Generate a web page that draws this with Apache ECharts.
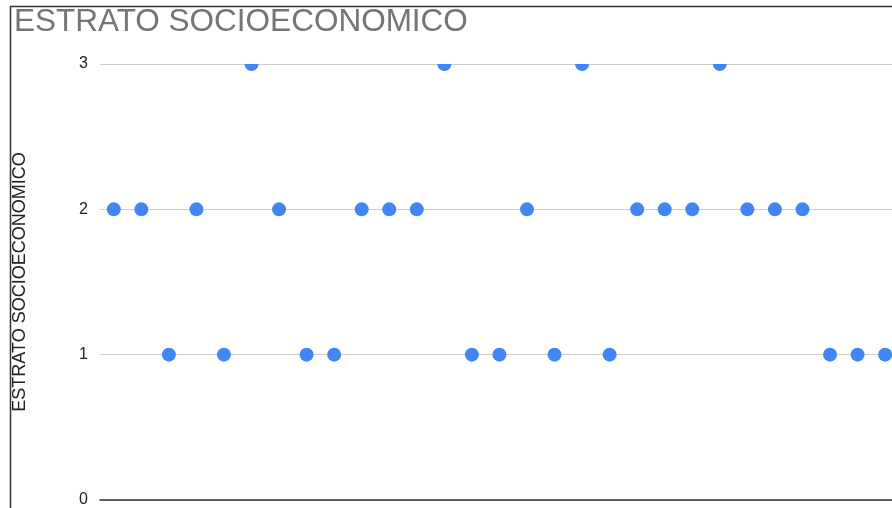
<!DOCTYPE html>
<html>
<head>
<meta charset="utf-8">
<script src="https://cdn.jsdelivr.net/npm/echarts@6/dist/echarts.min.js"></script>
<style>
html,body{margin:0;padding:0;background:#fff;}
#c{width:892px;height:508px;}
</style>
</head>
<body>
<div id="c"></div>
<script>
const titleText = 'ESTRATO SOCIOECONOMICO';
const yAxisName = 'ESTRATO SOCIOECONOMICO';
const yTicks = [0, 1, 2, 3];
const estrato = [2,2,1,2,1,3,2,1,1,2,2,2,3,1,1,2,1,3,1,2,2,2,3,2,2,2,1,1,1];

const points = estrato.map((v, i) => [i, v]);

const chart = echarts.init(document.getElementById('c'), null, {renderer: 'canvas'});
chart.setOption({
  animation: false,
  backgroundColor: '#ffffff',
  title: {
    text: titleText,
    left: 9,
    top: 1,
    textStyle: {fontFamily: 'Liberation Sans, Arial, sans-serif', fontSize: 31.5, fontWeight: 'normal', color: '#757575'}
  },
  grid: {left: 100, right: 0, top: 64, bottom: 7, containLabel: false},
  xAxis: {
    type: 'value',
    min: -0.5,
    max: 28.25,
    axisLine: {show: true, onZero: false, lineStyle: {color: '#333333', width: 1.5}},
    axisTick: {show: false},
    axisLabel: {show: false},
    splitLine: {show: false}
  },
  yAxis: {
    type: 'value',
    min: yTicks[0],
    max: yTicks[yTicks.length - 1],
    interval: 1,
    name: yAxisName,
    nameLocation: 'middle',
    nameGap: 71,
    nameRotate: 90,
    nameTextStyle: {fontFamily: 'Liberation Sans, Arial, sans-serif', fontSize: 18, color: '#222222'},
    axisLine: {show: false},
    axisTick: {show: false},
    axisLabel: {margin: 12, fontFamily: 'Liberation Sans, Arial, sans-serif', fontSize: 16, color: '#222222'},
    splitLine: {show: true, lineStyle: {color: '#cccccc', width: 1}}
  },
  series: [{
    type: 'custom',
    clip: true,
    data: points,
    encode: {x: 0, y: 1},
    renderItem: function (params, api) {
      const p = api.coord([api.value(0), api.value(1)]);
      return {type: 'circle', shape: {cx: p[0], cy: p[1], r: 7}, style: {fill: '#4285F4'}};
    }
  }],
  graphic: [
    {type: 'line', z: 100, shape: {x1: 10, y1: 6.5, x2: 892, y2: 6.5}, style: {stroke: '#333333', lineWidth: 1.5}},
    {type: 'line', z: 100, shape: {x1: 10.5, y1: 6, x2: 10.5, y2: 508}, style: {stroke: '#333333', lineWidth: 1.5}}
  ]
});
</script>
</body>
</html>
